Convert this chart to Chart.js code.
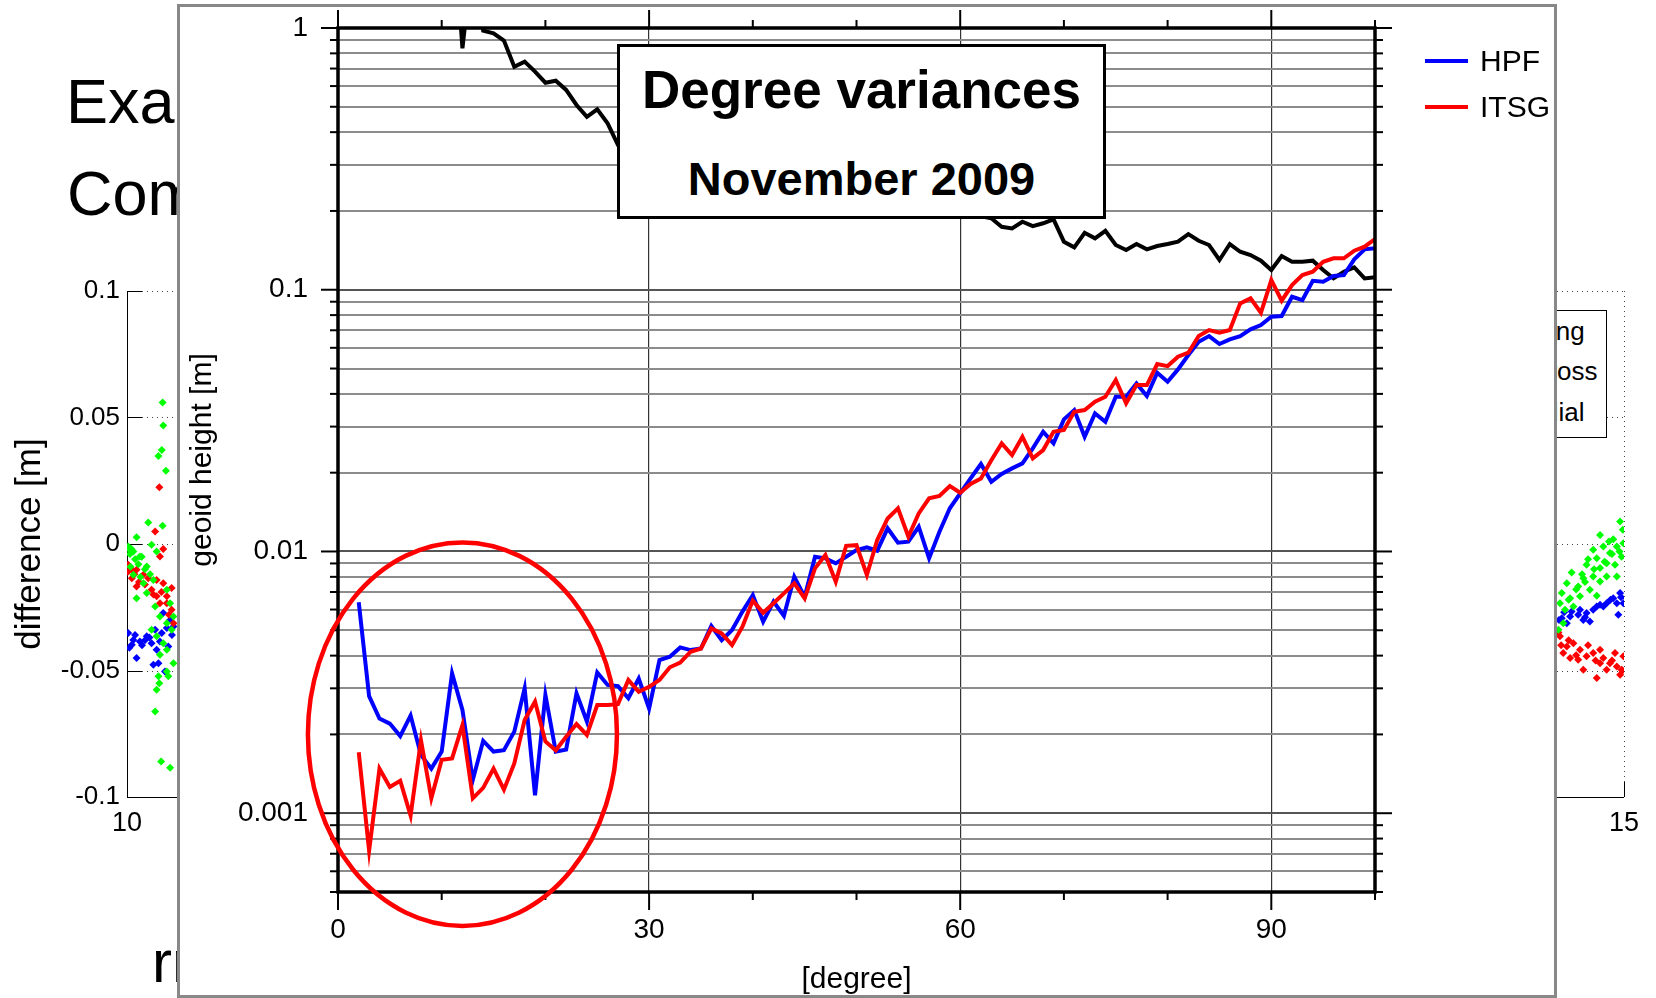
<!DOCTYPE html>
<html>
<head>
<meta charset="utf-8">
<script src="https://cdn.jsdelivr.net/npm/chart.js@4.4.1/dist/chart.umd.min.js"></script>
<style>
html,body{margin:0;padding:0;background:#fff;}
body{width:1656px;height:998px;position:relative;overflow:hidden;font-family:"Liberation Sans",Arial,Helvetica,sans-serif;color:#000;}
.abs{position:absolute;white-space:nowrap;}
canvas{position:absolute;left:0;top:0;display:block;}
#panel{position:absolute;left:177px;top:4px;width:1380px;height:994px;box-sizing:border-box;border:3px solid #888;background:#fff;}
#titleBox{position:absolute;left:617px;top:44px;width:489px;height:175px;box-sizing:border-box;border:3px solid #000;background:#fff;}
.big{font-size:63px;line-height:63px;}
.bgleg{font-size:26px;line-height:26px;}
.ttl{position:absolute;left:617px;width:489px;text-align:center;font-weight:bold;white-space:nowrap;}
.leg{font-size:30px;line-height:30px;}
.legline{position:absolute;width:43px;height:4px;}
</style>
</head>
<body>
<!-- background slide -->
<canvas id="bg" width="1656" height="998"></canvas>
<div class="abs big" style="left:66px;top:70px;">Example</div>
<div class="abs big" style="left:67px;top:162px;">Comparison</div>
<div class="abs" style="left:152px;top:932px;font-size:60px;line-height:60px;">rms</div>
<div class="abs" style="left:1380px;top:310px;width:227px;height:128px;box-sizing:border-box;border:1px solid #000;background:#fff;"></div>
<div class="abs bgleg" style="left:1521px;top:318px;">along</div>
<div class="abs bgleg" style="left:1521px;top:358px;">across</div>
<div class="abs bgleg" style="left:1521px;top:399px;">radial</div>

<!-- overlay panel -->
<div id="panel"></div>
<canvas id="main" width="1656" height="998"></canvas>
<div id="titleBox"></div>
<div class="ttl" style="top:63px;font-size:53px;line-height:53px;">Degree variances</div>
<div class="ttl" style="top:155px;font-size:47px;line-height:47px;">November 2009</div>
<div class="legline" style="left:1425px;top:59px;background:#0000ff;"></div>
<div class="abs leg" style="left:1480px;top:46px;">HPF</div>
<div class="legline" style="left:1425px;top:105px;background:#ff0000;"></div>
<div class="abs leg" style="left:1480px;top:92px;">ITSG</div>

<script>
// ---------------- main chart data ----------------
const degrees = [2,3,4,5,6,7,8,9,10,11,12,13,14,15,16,17,18,19,20,21,22,23,24,25,26,27,28,29,30,31,32,33,34,35,36,37,38,39,40,41,42,43,44,45,46,47,48,49,50,51,52,53,54,55,56,57,58,59,60,61,62,63,64,65,66,67,68,69,70,71,72,73,74,75,76,77,78,79,80,81,82,83,84,85,86,87,88,89,90,91,92,93,94,95,96,97,98,99,100];

const hpf = [0.0064,0.0028,0.0023,0.0022,0.00197,0.00236,0.00167,0.00148,0.00172,0.00342,
0.00248,0.00134,0.00189,0.00172,0.00174,0.00205,0.0030,0.00117,0.00283,0.00172,
0.00175,0.00287,0.00224,0.00345,0.00309,0.00306,0.00275,0.00327,0.00251,0.00385,
0.00396,0.0043,0.0042,0.00426,0.00519,0.00458,0.00501,0.00589,0.00681,0.00539,
0.00643,0.00567,0.00801,0.00671,0.00955,0.00941,0.00901,0.00955,0.01012,0.01037,
0.01007,0.01226,0.0108,0.0109,0.01243,0.00941,0.01189,0.01462,0.01667,0.01901,
0.02158,0.01846,0.01977,0.02077,0.0217,0.02477,0.02866,0.02588,0.03197,0.03469,
0.02744,0.03371,0.0313,0.03902,0.03902,0.04387,0.03925,0.04818,0.04454,0.04962,
0.0563,0.06329,0.06653,0.06203,0.06458,0.06653,0.07058,0.0733,0.07884,0.07937,
0.09402,0.09134,0.1082,0.1073,0.1128,0.1138,0.1306,0.1427,0.144];

const itsg = [0.00171,0.00072,0.00148,0.00126,0.00133,0.00098,0.0019,0.00114,0.0016,0.00162,
0.00217,0.00114,0.00125,0.00148,0.00123,0.00155,0.00227,0.00267,0.00188,0.00174,
0.00196,0.00219,0.00199,0.00259,0.00259,0.00261,0.00323,0.00291,0.00304,0.00323,
0.00361,0.00376,0.00414,0.00426,0.00508,0.00486,0.00439,0.00516,0.00649,0.00583,
0.00634,0.00692,0.00755,0.00662,0.00862,0.00969,0.00766,0.01051,0.01057,0.00813,
0.01106,0.01337,0.01462,0.01138,0.01397,0.01596,0.01629,0.01778,0.01676,0.01812,
0.01901,0.0223,0.02588,0.02336,0.02744,0.02269,0.0244,0.02866,0.0291,0.03418,
0.03469,0.03734,0.03902,0.04518,0.0368,0.04323,0.04323,0.052,0.05108,0.05546,
0.05747,0.06653,0.07015,0.06851,0.07015,0.08871,0.09271,0.08166,0.1089,0.09079,
0.1042,0.1138,0.1172,0.1279,0.1318,0.1318,0.141,0.146,0.1562];

// signal degree variances (black); null where hidden behind the title box / above the plot
const signal = [null,null,null,null,null,null,null,null,null,
3.0,0.836,1.9,0.976,0.954,0.895,0.711,0.744,0.681,0.618,0.629,0.58,0.508,0.458,0.489,0.432,0.357,
null,null,null,null,null,null,null,null,null,null,null,null,null,null,null,null,null,null,null,null,null,null,null,null,null,null,null,null,null,null,null,null,null,null,null,
0.1875,0.174,0.1716,0.1819,0.1751,0.1794,0.1858,0.1526,0.1452,0.1651,0.1572,0.168,0.1482,0.1418,0.1495,0.1427,0.1469,0.1495,0.1526,0.1632,
0.1539,0.1482,0.1299,0.1495,0.1397,0.1357,0.1291,0.1189,0.1345,0.1279,0.1279,0.1291,0.1189,0.1105,0.1172,0.1218,0.1105,0.1115];

const xTickValues = [0,10,20,30,40,50,60,70,80,90,100];
const xTickLabels = [0,30,60,90];
const yTickLabels = [0.001,0.01,0.1,1];
const yDecades = [0.0001,0.001,0.01,0.1,1];
const yMultipliers = [1,2,3,4,5,6,7,8,9];
// highlighted region (degree range, value range)
const ellipseDeg = [-2.9, 26.9];
const ellipseVal = [0.01083, 0.000371];

// ---------------- background slide chart data ----------------
const bgXTicks = [10,11,12,13,14,15];
const bgYTicks = [-0.1,-0.05,0,0.05,0.1];
const bgYTickLabels = ['-0.1','-0.05','0','0.05','0.1'];
const bgGreen = [
[10.119,0.0559],[10.121,0.0468],[10.116,0.0372],[10.105,0.0348],[10.130,0.0290],[10.071,0.0085],[10.119,0.0072],[10.032,0.0027],[10.004,-0.0017],[10.021,-0.003],
[10.043,-0.0049],[10.082,-0.0003],[10.099,-0.003],[10.066,-0.0089],[10.021,-0.0122],[10.055,-0.0155],[10.088,-0.0142],[10.032,-0.0214],[10.066,-0.0194],[10.094,-0.0247],
[10.110,-0.0287],[10.133,-0.0313],[10.082,-0.0339],[10.099,-0.0365],[10.121,-0.0392],[10.133,-0.0418],[10.149,-0.0339],[10.144,-0.0234],[10.133,-0.0181],[10.110,-0.0438],
[10.155,-0.0471],[10.133,-0.0504],[10.105,-0.0523],[10.108,-0.055],[10.099,-0.0576],[10.094,-0.0662],[10.138,-0.0523],[10.155,-0.0287],[10.114,-0.086],[10.144,-0.0884],
[10.004,-0.001],[10.010,-0.004],[10.015,-0.002],[10.027,-0.006],[10.038,-0.008],[10.049,-0.005],[10.060,-0.010],[10.077,-0.012],[10.045,-0.013],[10.012,-0.009],
[14.987,0.0089],[14.996,0.0056],[14.920,0.0036],[14.964,0.0019],[14.998,0.0003],[14.976,-0.001],[14.897,-0.0023],[14.931,-0.001],[14.953,-0.0036],[14.992,-0.005],
[14.909,-0.0056],[14.942,-0.0076],[14.875,-0.0082],[14.920,-0.0095],[14.970,-0.0082],[14.825,-0.0113],[14.897,-0.0128],[14.864,-0.0135],[14.942,-0.0128],[14.809,-0.0155],
[14.847,-0.0168],[14.886,-0.0181],[14.920,-0.0148],[14.976,-0.0128],[14.792,-0.0194],[14.820,-0.0214],[14.853,-0.0207],[14.909,-0.0205],[14.786,-0.0234],[14.803,-0.026],
[14.831,-0.0247],[14.797,-0.0313],[14.781,-0.0339],[14.960,-0.004],[14.985,-0.003],[14.935,-0.007],[14.900,-0.010],[14.870,-0.015],[14.840,-0.018],[14.950,0.001],
[14.880,-0.006],[14.815,-0.022],[14.860,-0.012]];
const bgRed = [
[10.108,0.0224],[10.094,0.0049],[10.121,-0.002],[10.110,-0.0049],[10.004,-0.0082],[10.032,-0.0102],[10.055,-0.0122],[10.016,-0.0135],[10.071,-0.0135],[10.099,-0.0142],
[10.121,-0.0155],[10.032,-0.0168],[10.082,-0.0181],[10.133,-0.0207],[10.149,-0.0174],[10.099,-0.0207],[10.133,-0.0234],[10.149,-0.026],[10.110,-0.0234],[10.155,-0.0313],
[10.015,-0.010],[10.025,-0.012],[10.040,-0.015],[10.060,-0.016],[10.003,-0.011],[10.088,-0.020],[10.115,-0.019],[10.140,-0.028],
[14.786,-0.0365],[14.809,-0.0405],[14.797,-0.0431],[14.831,-0.0392],[14.853,-0.0418],[14.875,-0.0444],[14.897,-0.0431],[14.920,-0.0418],[14.931,-0.0451],[14.953,-0.0471],
[14.976,-0.0484],[14.992,-0.0497],[14.998,-0.0444],[14.920,-0.0471],[14.864,-0.0497],[14.909,-0.053],[14.847,-0.0458],[14.820,-0.0451],[14.970,-0.0431],[14.942,-0.0497],
[14.987,-0.0517],[14.781,-0.035],[14.790,-0.040],[14.815,-0.038],[14.840,-0.044],[14.880,-0.040],[14.960,-0.046],[14.995,-0.050],[14.905,-0.046]];
const bgBlue = [
[10.004,-0.0352],[10.021,-0.0379],[10.016,-0.0398],[10.043,-0.0385],[10.066,-0.0365],[10.082,-0.0392],[10.099,-0.0418],[10.116,-0.0352],[10.133,-0.0332],[10.144,-0.030],
[10.121,-0.0273],[10.094,-0.0339],[10.110,-0.0385],[10.032,-0.0451],[10.088,-0.0477],[10.105,-0.0471],[10.127,-0.0504],[10.155,-0.0326],[10.138,-0.0405],
[10.008,-0.041],[10.027,-0.036],[10.050,-0.040],[10.060,-0.038],[10.075,-0.037],[10.150,-0.036],
[14.987,-0.0194],[14.998,-0.0234],[14.964,-0.0214],[14.942,-0.0234],[14.920,-0.024],[14.897,-0.026],[14.875,-0.0273],[14.864,-0.030],[14.847,-0.028],[14.820,-0.0287],
[14.809,-0.0313],[14.792,-0.0293],[14.886,-0.0306],[14.931,-0.0247],[14.981,-0.028],[14.976,-0.0234],[14.909,-0.0247],[14.853,-0.026],[14.825,-0.0267],
[14.783,-0.030],[14.800,-0.027],[14.870,-0.029],[14.955,-0.022],[14.990,-0.021]];

// ---------------- helpers ----------------
const FAM = '"Liberation Sans", Arial, Helvetica, sans-serif';
Chart.defaults.font.family = FAM;
Chart.defaults.color = '#000';
const isMajor = v => Math.abs(Math.log10(v) - Math.round(Math.log10(v))) < 1e-6;
const yGridValues = [];
yDecades.forEach(d => yMultipliers.forEach(m => { const v = d * m; if (v >= 0.0005 - 1e-12 && v <= 1 + 1e-12) yGridValues.push(v); }));
const toXY = arr => arr.map((v, i) => ({x: degrees[i], y: v}));
const noPad = s => { s.paddingTop = 0; s.paddingBottom = 0; s.paddingLeft = 0; s.paddingRight = 0; };

function seg(ctx, x1, y1, x2, y2) { ctx.beginPath(); ctx.moveTo(x1, y1); ctx.lineTo(x2, y2); ctx.stroke(); }

// ---------------- background chart ----------------
const bgGridPlugin = {
  id: 'bgGrid',
  beforeDatasetsDraw(chart) {
    const {ctx, chartArea: a, scales: {x, y}} = chart;
    ctx.save();
    ctx.strokeStyle = '#444'; ctx.lineWidth = 1; ctx.setLineDash([1, 4]);
    y.ticks.forEach(t => { if (t.value > -0.1 + 1e-9) { const py = Math.round(y.getPixelForValue(t.value)) + 0.5; seg(ctx, a.left + 15, py, a.right, py); } });
    x.ticks.forEach(t => { if (t.value > 10) { const px = Math.round(x.getPixelForValue(t.value)) + 0.5; seg(ctx, px, a.top, px, a.bottom - 15); } });
    ctx.setLineDash([]); ctx.strokeStyle = '#000';
    y.ticks.forEach(t => { const py = Math.round(y.getPixelForValue(t.value)) + 0.5; seg(ctx, a.left, py, a.left + 15, py); });
    x.ticks.forEach(t => { const px = Math.round(x.getPixelForValue(t.value)) + 0.5; seg(ctx, px, a.bottom, px, a.bottom - 15); });
    const L = Math.round(a.left) + 0.5, B = Math.round(a.bottom) + 0.5;
    seg(ctx, L, a.top, L, B); seg(ctx, L, B, a.right, B);
    ctx.restore();
  }
};
const pt = c => ({type: 'scatter', pointStyle: 'rectRot', pointRadius: 4, borderWidth: 0, backgroundColor: c});
new Chart(document.getElementById('bg'), {
  type: 'scatter',
  data: {datasets: [
    Object.assign({label: 'along', data: bgGreen.map(p => ({x: p[0], y: p[1]}))}, pt('#00ff00')),
    Object.assign({label: 'radial', data: bgRed.map(p => ({x: p[0], y: p[1]}))}, pt('#ff0000')),
    Object.assign({label: 'across', data: bgBlue.map(p => ({x: p[0], y: p[1]}))}, pt('#0000ff'))
  ]},
  options: {
    responsive: false, animation: false, devicePixelRatio: 1,
    layout: {padding: {left: 0, right: 32, top: 291, bottom: 0}},
    plugins: {legend: {display: false}, tooltip: {enabled: false}},
    scales: {
      x: {type: 'linear', min: 10, max: 15,
        afterBuildTicks: s => { s.ticks = bgXTicks.map(v => ({value: v})); },
        afterFit: s => { s.height = 201; noPad(s); },
        grid: {display: false, drawTicks: false}, border: {display: false},
        ticks: {padding: 10, font: {size: 27}, color: '#000', maxRotation: 0, autoSkip: false, callback: v => String(v)}},
      y: {type: 'linear', min: -0.1, max: 0.1,
        afterBuildTicks: s => { s.ticks = bgYTicks.map(v => ({value: v})); },
        afterFit: s => { s.width = 127; noPad(s); },
        grid: {display: false, drawTicks: false}, border: {display: false},
        ticks: {padding: 7, font: {size: 26}, color: '#000', autoSkip: false, callback: (v, i) => bgYTickLabels[i]},
        title: {display: true, text: 'difference [m]', font: {size: 35}, color: '#000', padding: {top: 9, bottom: 0}}}
    }
  },
  plugins: [bgGridPlugin]
});

// ---------------- main chart ----------------
const framePlugin = {
  id: 'frame',
  afterDraw(chart) {
    const {ctx, chartArea: a, scales: {x, y}} = chart;
    ctx.save();
    ctx.strokeStyle = '#000'; ctx.lineWidth = 2;
    x.ticks.forEach(t => {
      const px = x.getPixelForValue(t.value);
      const L = xTickLabels.includes(t.value) ? 18 : 8;
      seg(ctx, px, a.top, px, a.top - L); seg(ctx, px, a.bottom, px, a.bottom + L);
    });
    y.ticks.forEach(t => {
      const py = y.getPixelForValue(t.value);
      const L = isMajor(t.value) ? 17 : 8;
      seg(ctx, a.left, py, a.left - L, py); seg(ctx, a.right, py, a.right + L, py);
    });
    ctx.lineWidth = 3.5;
    ctx.strokeRect(a.left, a.top, a.right - a.left, a.bottom - a.top);
    // highlight ellipse
    const ex1 = x.getPixelForValue(ellipseDeg[0]), ex2 = x.getPixelForValue(ellipseDeg[1]);
    const ey1 = y.getPixelForValue(ellipseVal[0]), ey2 = y.getPixelForValue(ellipseVal[1]);
    ctx.strokeStyle = '#ff0000'; ctx.lineWidth = 4.5;
    ctx.beginPath();
    ctx.ellipse((ex1 + ex2) / 2, (ey1 + ey2) / 2, Math.abs(ex2 - ex1) / 2, Math.abs(ey2 - ey1) / 2, 0, 0, Math.PI * 2);
    ctx.stroke();
    ctx.restore();
  }
};

new Chart(document.getElementById('main'), {
  type: 'line',
  data: {datasets: [
    {label: 'ITSG', data: toXY(itsg), borderColor: '#ff0000', borderWidth: 4, pointRadius: 0, tension: 0, fill: false},
    {label: 'HPF', data: toXY(hpf), borderColor: '#0000ff', borderWidth: 4, pointRadius: 0, tension: 0, fill: false},
    {label: 'signal', data: toXY(signal), borderColor: '#000000', borderWidth: 4, pointRadius: 0, tension: 0, fill: false, spanGaps: true}
  ]},
  options: {
    responsive: false, animation: false, devicePixelRatio: 1,
    layout: {padding: {left: 178, right: 281, top: 28, bottom: 0}},
    plugins: {legend: {display: false}, tooltip: {enabled: false}},
    scales: {
      x: {type: 'linear', min: 0, max: 100,
        afterBuildTicks: s => { s.ticks = xTickValues.map(v => ({value: v})); },
        afterFit: s => { s.height = 106; noPad(s); },
        grid: {drawTicks: false, lineWidth: 1.2, color: c => (c.tick && c.tick.value > 0 && xTickLabels.includes(c.tick.value)) ? '#333' : 'rgba(0,0,0,0)'},
        border: {display: false},
        ticks: {padding: 21, font: {size: 28}, color: '#000', maxRotation: 0, autoSkip: false,
          callback: v => xTickLabels.includes(v) ? String(v) : ''},
        title: {display: true, text: '[degree]', font: {size: 30}, color: '#000', padding: {top: 0, bottom: 0}}},
      y: {type: 'logarithmic', min: 0.0005, max: 1,
        afterBuildTicks: s => { s.ticks = yGridValues.map(v => ({value: v})); },
        afterFit: s => { s.width = 160; noPad(s); },
        grid: {drawTicks: false, lineWidth: 2, color: c => (c.tick && isMajor(c.tick.value)) ? '#555' : '#8c8c8c'},
        border: {display: false},
        ticks: {padding: 30, font: {size: 28}, color: '#000', autoSkip: false,
          callback: v => { const m = yTickLabels.find(l => Math.abs(l - v) / l < 1e-6); return m !== undefined ? String(m) : ''; }},
        title: {display: true, text: 'geoid height [m]', font: {size: 30}, color: '#000', padding: {top: 7, bottom: 0}}}
    }
  },
  plugins: [framePlugin]
});
</script>
</body>
</html>
